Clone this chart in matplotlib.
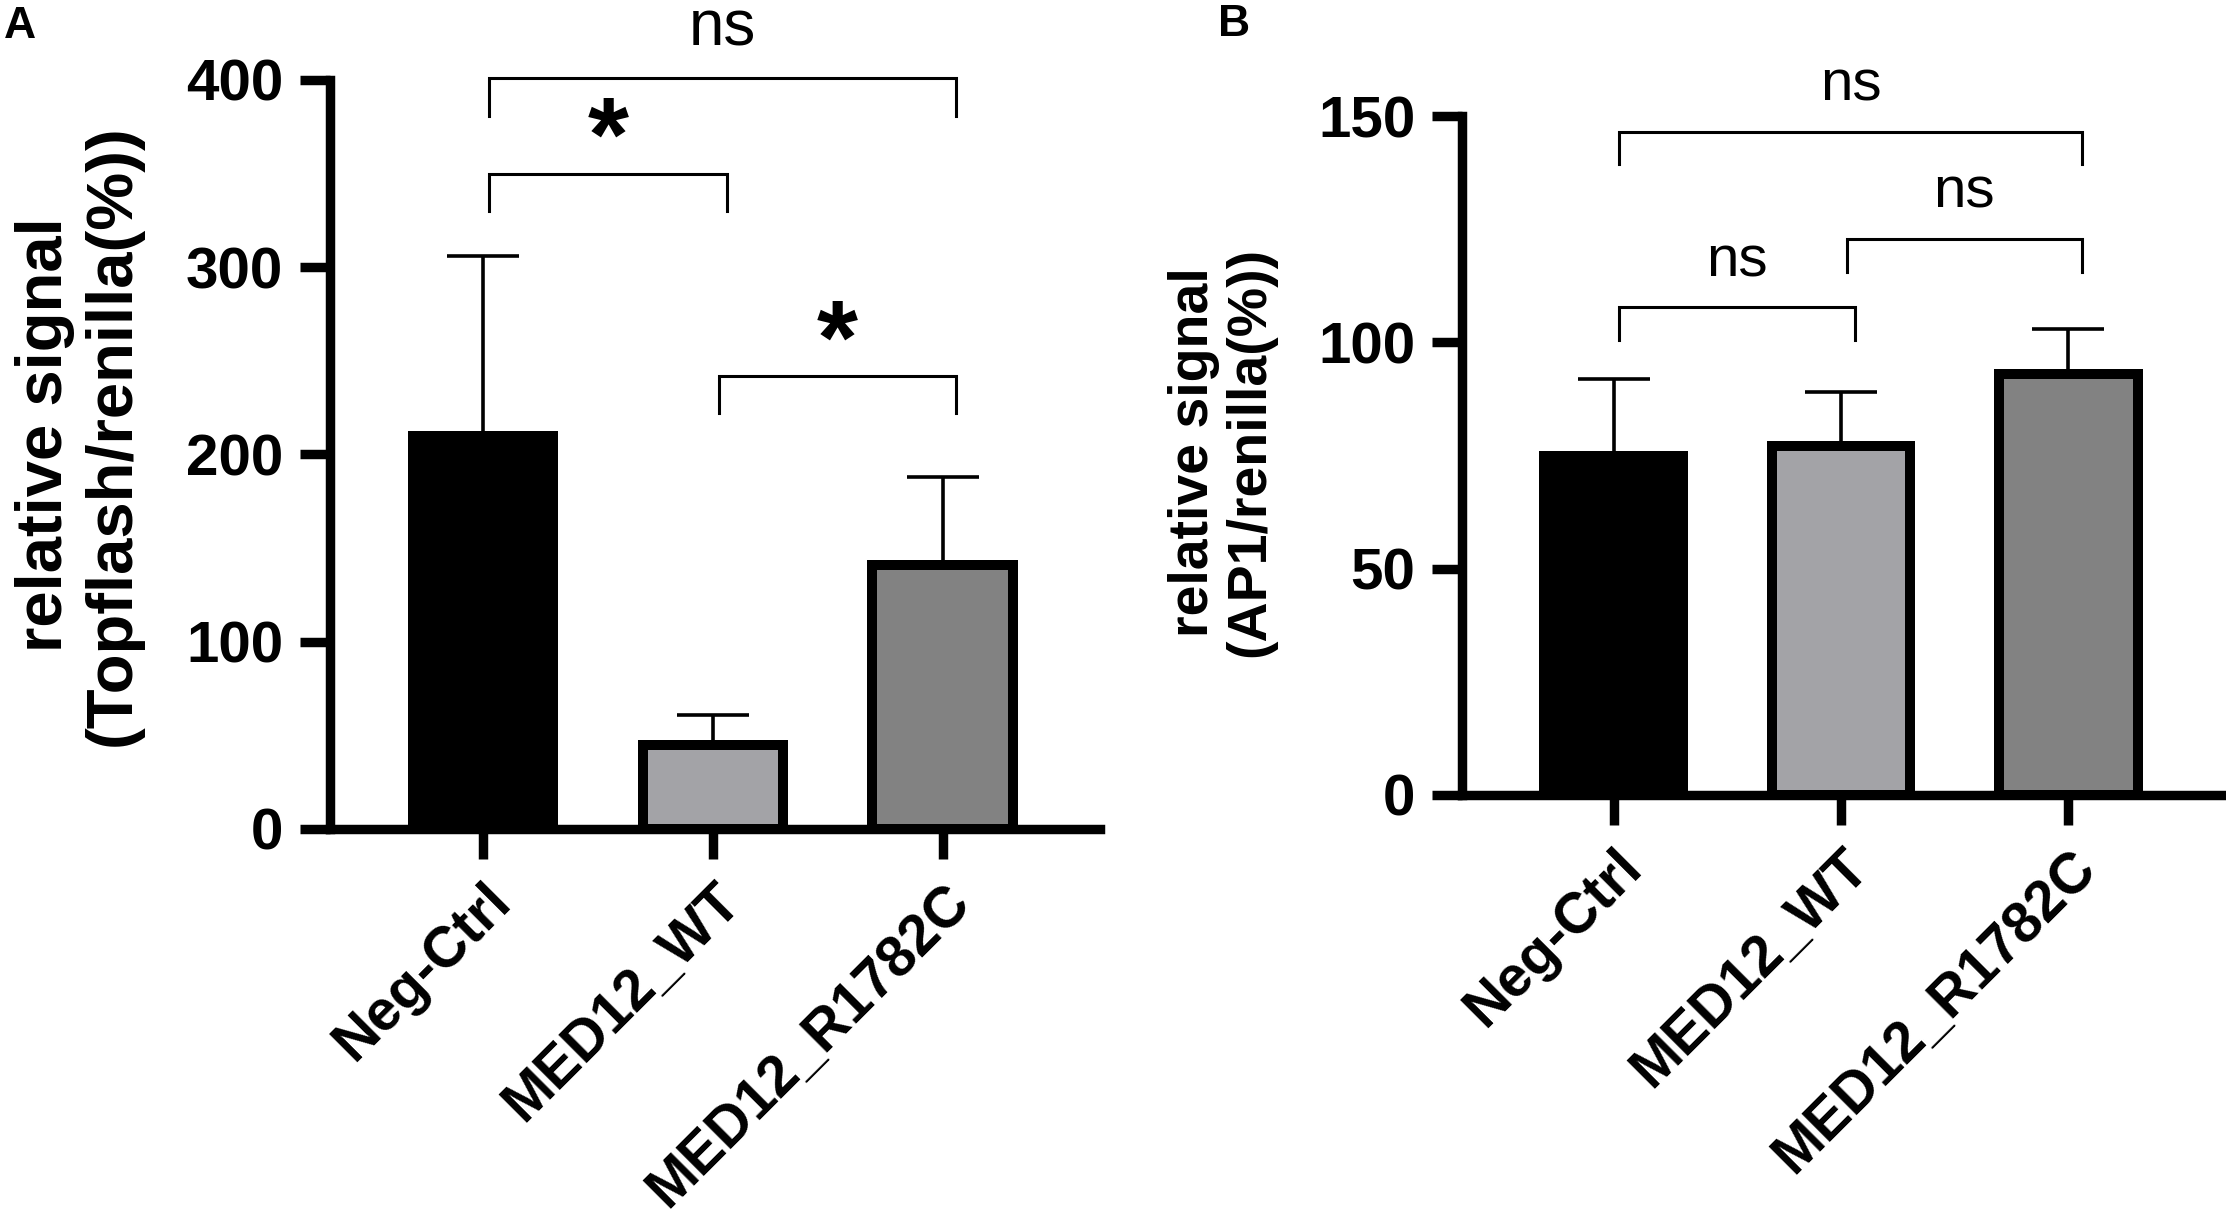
"""
Reporter assay bar charts: Topflash (A) and AP1 (B) relative signal
"""
import matplotlib
matplotlib.use("Agg")
import matplotlib.pyplot as plt
import matplotlib.transforms as mtransforms
import numpy as np

plt.rcParams['font.family'] = ['Liberation Sans', 'DejaVu Sans']

# Data
groups = ['Neg-Ctrl', 'MED12_WT', 'MED12_R1782C']
bar_colors = ['#000000', '#a3a3a7', '#828282']

topflash_mean = [210, 45, 141]
topflash_err = [96, 16, 47]
topflash_ticks = [0, 100, 200, 300, 400]
# (group1, group2, bracket height, label)
topflash_sig = [(0, 2, 401, 'ns'), (0, 1, 350, '*'), (1, 2, 242, '*')]

ap1_mean = [75, 77, 93]
ap1_err = [17, 12, 10]
ap1_ticks = [0, 50, 100, 150]
ap1_sig = [(0, 2, 146.5, 'ns'), (1, 2, 122.8, 'ns'), (0, 1, 107.7, 'ns')]

DPI = 200
fig = plt.figure(figsize=(2226 / DPI, 1215 / DPI), dpi=DPI)


def draw_panel(ax, means, errs, ticks, sig, drop, tick_fs, ns_fs):
    x = np.arange(len(groups))
    ax.errorbar(x, means, yerr=[np.zeros(len(errs)), errs], fmt='none',
                ecolor='black', elinewidth=1.3, capsize=13, capthick=1.3,
                zorder=2)
    ax.bar(x, means, width=0.61, color=bar_colors, edgecolor='black',
           linewidth=3.6, zorder=3)
    ax.set_xlim(-0.667, 2.685)
    ax.set_ylim(ticks[0], ticks[-1])
    ax.set_yticks(ticks)
    ax.set_xticks(x)
    ax.set_xticklabels(groups, rotation=45, ha='right', va='top',
                       rotation_mode='anchor', fontsize=20.5,
                       fontweight='bold')
    shift = mtransforms.ScaledTranslation(-0.065, 0, fig.dpi_scale_trans)
    for lab in ax.get_xticklabels():
        lab.set_transform(lab.get_transform() + shift)
    for lab in ax.get_yticklabels():
        lab.set_fontsize(tick_fs)
        lab.set_fontweight('bold')
    for side in ['top', 'right']:
        ax.spines[side].set_visible(False)
    for side in ['left', 'bottom']:
        ax.spines[side].set_linewidth(3.4)
        ax.spines[side].set_capstyle('projecting')
    ax.tick_params(axis='y', length=10.8, width=3.4, pad=6)
    ax.tick_params(axis='x', length=10.8, width=3.4, pad=5.5)

    # significance brackets
    for g1, g2, h, label in sig:
        x1, x2 = g1 + 0.025, g2 + 0.06
        ax.plot([x1, x1, x2, x2], [h - drop, h, h, h - drop], color='black',
                lw=1.1, clip_on=False, solid_joinstyle='miter')
        if label == '*':
            ax.annotate(label, ((x1 + x2) / 2, h), xytext=(0, -7),
                        textcoords='offset points', ha='center', va='bottom',
                        fontsize=38, fontweight='bold', annotation_clip=False)
        else:
            ax.annotate(label, ((x1 + x2) / 2, h), xytext=(0, 7),
                        textcoords='offset points', ha='center', va='bottom',
                        fontsize=ns_fs, annotation_clip=False)


axA = fig.add_axes([0.1482, 0.3177, 0.3459, 0.6165])
draw_panel(axA, topflash_mean, topflash_err, topflash_ticks, topflash_sig,
           20, 21, 23)
fig.text(0.0355, 0.642, 'relative signal\n(Topflash/renilla(%))',
         rotation=90, ha='center', va='center', multialignment='center',
         fontsize=23.5, fontweight='bold', linespacing=1.15)
fig.text(0.009, 0.978, 'A', ha='center', va='center', fontsize=16,
         fontweight='bold')

axB = fig.add_axes([0.6568, 0.3457, 0.3423, 0.5588])
draw_panel(axB, ap1_mean, ap1_err, ap1_ticks, ap1_sig, 7.2, 21, 21)
fig.text(0.549, 0.628, 'relative signal\n(AP1/renilla(%))',
         rotation=90, ha='center', va='center', multialignment='center',
         fontsize=20, fontweight='bold', linespacing=1.1)
fig.text(0.5545, 0.980, 'B', ha='center', va='center', fontsize=16,
         fontweight='bold')

fig.savefig('out.png', dpi=DPI)
